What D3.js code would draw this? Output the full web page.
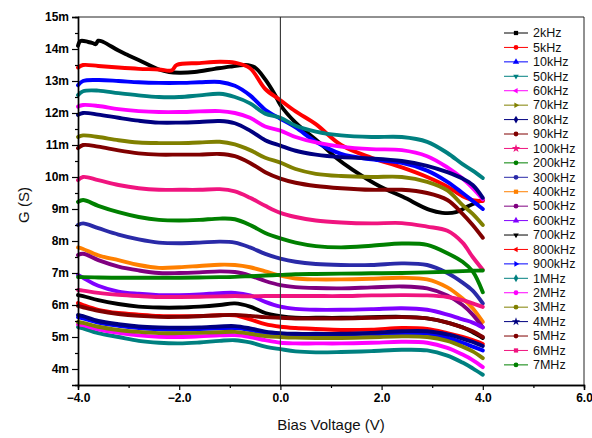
<!DOCTYPE html>
<html>
<head>
<meta charset="utf-8">
<script src="https://cdn.jsdelivr.net/npm/d3@7/dist/d3.min.js"></script>
<style>
  html, body { margin: 0; padding: 0; background: #fff; }
  svg { display: block; }
  text { font-family: "Liberation Sans", Arial, sans-serif; }
</style>
</head>
<body>
<svg id="chart" width="592" height="438"></svg>
<script>
// Bias voltage sample points (V)
const biasV = [-4, -3.9, -3.6, -3.2, -2.8, -2.4, -2.0, -1.6, -1.2, -0.9, -0.6, -0.3, 0, 0.3, 0.7, 1.2, 1.8, 2.4, 2.9, 3.3, 3.6, 3.8, 4.0];
const biasV_2k = [-4.0, -3.95, -3.8, -3.7, -3.65, -3.6, -3.5, -3.2, -3.0, -2.7, -2.4, -2.2, -2.0, -1.7, -1.3, -1.0, -0.7, -0.5, -0.3, -0.1, 0.0, 0.3, 0.78, 1.1, 1.43, 1.97, 2.42, 2.95, 3.2, 3.47, 3.73, 4.0];
const biasV_5k = [-4, -3.9, -3.6, -3.2, -2.8, -2.4, -2.15, -2.05, -1.6, -1.2, -0.9, -0.6, -0.3, 0, 0.3, 0.7, 1.2, 1.8, 2.4, 2.9, 3.3, 3.6, 3.8, 4.0];

// Conductance G (mS) per frequency
const g2k   = [14.1, 14.25, 14.22, 14.18, 14.15, 14.26, 14.22, 13.95, 13.8, 13.58, 13.36, 13.28, 13.26, 13.28, 13.38, 13.45, 13.5, 13.42, 13.05, 12.55, 12.25, 11.7, 11.06, 10.6, 10.22, 9.7, 9.38, 8.97, 8.88, 8.9, 9.1, 9.28];
const g5k   = [13.42, 13.5, 13.47, 13.42, 13.38, 13.36, 13.33, 13.5, 13.56, 13.6, 13.57, 13.4, 12.75, 12.4, 12.05, 11.65, 11.0, 10.6, 10.3, 10.0, 9.7, 9.4, 9.28, 9.25];
const g10k  = [12.87, 13.0, 13.03, 13.0, 12.96, 12.94, 12.94, 12.96, 12.97, 12.85, 12.55, 12.1, 11.82, 11.55, 11.1, 10.72, 10.55, 10.44, 10.2, 9.85, 9.5, 9.25, 9.0];
const g50k  = [12.56, 12.68, 12.7, 12.62, 12.55, 12.5, 12.5, 12.55, 12.6, 12.5, 12.3, 11.98, 11.85, 11.6, 11.42, 11.3, 11.25, 11.25, 11.1, 10.75, 10.4, 10.2, 9.97];
const g60k  = [12.2, 12.25, 12.22, 12.12, 12.06, 12.03, 12.03, 12.05, 12.06, 12.0, 11.85, 11.58, 11.45, 11.25, 11.08, 10.95, 10.87, 10.84, 10.65, 10.3, 9.95, 9.65, 9.3];
const g70k  = [11.25, 11.3, 11.25, 11.15, 11.08, 11.06, 11.06, 11.08, 11.1, 11.02, 10.84, 10.6, 10.45, 10.25, 10.1, 10.03, 10.0, 10.0, 9.85, 9.58, 9.12, 8.85, 8.5];
const g80k  = [11.94, 12.0, 11.95, 11.85, 11.76, 11.7, 11.7, 11.72, 11.75, 11.68, 11.45, 11.15, 10.98, 10.82, 10.7, 10.62, 10.58, 10.5, 10.35, 10.15, 9.95, 9.75, 9.35];
const g90k  = [10.9, 11.0, 10.95, 10.83, 10.74, 10.7, 10.7, 10.7, 10.72, 10.65, 10.44, 10.15, 9.95, 9.82, 9.72, 9.65, 9.6, 9.6, 9.5, 9.28, 8.85, 8.5, 8.1];
const g100k = [9.9, 10.0, 9.9, 9.75, 9.65, 9.6, 9.6, 9.6, 9.62, 9.55, 9.35, 9.1, 8.88, 8.75, 8.64, 8.58, 8.55, 8.56, 8.45, 8.32, 7.95, 7.5, 7.1];
const g200k = [9.22, 9.28, 9.1, 8.9, 8.75, 8.66, 8.64, 8.66, 8.7, 8.68, 8.5, 8.25, 8.08, 7.95, 7.84, 7.8, 7.85, 7.92, 7.88, 7.62, 7.35, 7.05, 6.4];
const g300k = [8.5, 8.55, 8.4, 8.2, 8.05, 7.95, 7.93, 7.95, 7.98, 7.95, 7.8, 7.6, 7.45, 7.35, 7.28, 7.25, 7.25, 7.3, 7.25, 7.0, 6.7, 6.45, 6.05];
const g400k = [7.8, 7.75, 7.55, 7.4, 7.25, 7.16, 7.18, 7.22, 7.26, 7.25, 7.18, 7.05, 6.92, 6.83, 6.8, 6.8, 6.82, 6.85, 6.8, 6.55, 6.2, 5.9, 5.47];
const g500k = [7.56, 7.6, 7.4, 7.2, 7.08, 7.0, 7.0, 7.02, 7.05, 7.03, 6.92, 6.75, 6.62, 6.56, 6.53, 6.52, 6.55, 6.58, 6.52, 6.3, 6.0, 5.7, 5.3];
const g600k = [6.94, 6.85, 6.6, 6.42, 6.35, 6.31, 6.31, 6.33, 6.37, 6.38, 6.3, 6.1, 5.95, 5.88, 5.85, 5.85, 5.87, 5.9, 5.85, 5.7, 5.55, 5.45, 5.3];
const g700k = [6.31, 6.28, 6.15, 6.03, 5.95, 5.92, 5.92, 5.95, 6.0, 6.05, 5.95, 5.75, 5.65, 5.6, 5.6, 5.6, 5.62, 5.63, 5.58, 5.45, 5.3, 5.15, 4.97];
const g800k = [6.06, 6.0, 5.85, 5.75, 5.7, 5.66, 5.65, 5.66, 5.68, 5.68, 5.55, 5.4, 5.32, 5.28, 5.25, 5.22, 5.23, 5.28, 5.25, 5.12, 5.0, 4.9, 4.78];
const g900k = [5.62, 5.58, 5.45, 5.35, 5.28, 5.24, 5.23, 5.25, 5.27, 5.28, 5.22, 5.12, 5.06, 5.03, 5.02, 5.03, 5.06, 5.1, 5.1, 4.98, 4.82, 4.7, 4.58];
const g1M   = [5.31, 5.27, 5.12, 5.0, 4.88, 4.82, 4.8, 4.83, 4.88, 4.9, 4.83, 4.7, 4.62, 4.55, 4.52, 4.53, 4.56, 4.6, 4.58, 4.42, 4.2, 4.02, 3.82];
const g2M   = [5.4, 5.37, 5.24, 5.13, 5.05, 5.01, 5.0, 5.02, 5.05, 5.06, 5.0, 4.9, 4.82, 4.8, 4.8, 4.8, 4.82, 4.85, 4.82, 4.66, 4.45, 4.28, 4.06];
const g3M   = [5.47, 5.44, 5.32, 5.22, 5.16, 5.12, 5.12, 5.13, 5.15, 5.16, 5.1, 5.03, 5.0, 4.98, 4.97, 4.97, 4.99, 5.02, 5.0, 4.88, 4.7, 4.55, 4.34];
const g4M   = [5.69, 5.65, 5.5, 5.4, 5.33, 5.3, 5.29, 5.3, 5.33, 5.34, 5.27, 5.17, 5.12, 5.1, 5.1, 5.1, 5.13, 5.18, 5.18, 5.08, 4.95, 4.85, 4.72];
const g5M   = [5.97, 5.93, 5.82, 5.72, 5.66, 5.63, 5.63, 5.65, 5.68, 5.69, 5.66, 5.62, 5.6, 5.58, 5.58, 5.58, 5.6, 5.62, 5.58, 5.45, 5.3, 5.18, 5.0];
const g6M   = [6.47, 6.45, 6.38, 6.32, 6.28, 6.25, 6.25, 6.26, 6.27, 6.28, 6.27, 6.28, 6.28, 6.28, 6.28, 6.28, 6.3, 6.31, 6.3, 6.25, 6.15, 6.05, 5.94];
const g7M   = [6.875, 6.87, 6.86, 6.85, 6.85, 6.85, 6.85, 6.86, 6.87, 6.88, 6.9, 6.92, 6.94, 6.96, 6.97, 6.98, 6.99, 7.0, 7.02, 7.04, 7.06, 7.07, 7.08];

const freqLabels = ["2kHz", "5kHz", "10kHz", "50kHz", "60kHz", "70kHz", "80kHz", "90kHz", "100kHz", "200kHz", "300kHz", "400kHz",
                    "500kHz", "600kHz", "700kHz", "800kHz", "900kHz", "1MHz", "2MHz", "3MHz", "4MHz", "5MHz", "6MHz", "7MHz"];
const xTicks = [-4, -2, 0, 2, 4, 6];
const yTicks = [4, 5, 6, 7, 8, 9, 10, 11, 12, 13, 14, 15];

// Styling per series
const lineColors = ["#000000", "#ff0000", "#0000ff", "#008080", "#ff00ff", "#808000", "#000080", "#800000", "#f0147f", "#008000", "#2a2aa8", "#ff8000",
                    "#800080", "#8000ff", "#000000", "#ff0000", "#0000ff", "#008080", "#ff00ff", "#808000", "#000080", "#800000", "#f0147f", "#008000"];
const markerShapes = [d3.symbolSquare, d3.symbolCircle, d3.symbolTriangle, "tdown", "tleft", "tright", d3.symbolDiamond, d3.symbolCircle,
                      d3.symbolStar, d3.symbolCircle, d3.symbolCircle, d3.symbolSquare, d3.symbolCircle, d3.symbolTriangle, "tdown", "tleft",
                      "tright", d3.symbolDiamond, d3.symbolCircle, d3.symbolCircle, d3.symbolStar, d3.symbolCircle, d3.symbolSquare, d3.symbolCircle];

const volts = [biasV_2k, biasV_5k].concat(d3.range(22).map(() => biasV));
const values = [g2k, g5k, g10k, g50k, g60k, g70k, g80k, g90k, g100k, g200k, g300k, g400k,
                g500k, g600k, g700k, g800k, g900k, g1M, g2M, g3M, g4M, g5M, g6M, g7M];
const series = freqLabels.map((label, i) => ({
  label, color: lineColors[i], shape: markerShapes[i],
  points: volts[i].map((v, j) => [v, values[i][j]])
}));

const svg = d3.select("#chart");
const plot = { left: 78, right: 584, top: 17, bottom: 385 };

const x = d3.scaleLinear().domain([-4, 6]).range([plot.left, plot.right]);
const y = d3.scaleLinear().domain([3.5, 15]).range([plot.bottom, plot.top]);

// Curves
const line = d3.line().x(d => x(d[0])).y(d => y(d[1])).curve(d3.curveCatmullRom.alpha(0.5));
const curves = svg.append("g");
series.forEach(s => {
  curves.append("path")
    .attr("d", line(s.points))
    .attr("fill", "none")
    .attr("stroke", s.color)
    .attr("stroke-width", 3.9)
    .attr("stroke-linejoin", "round")
    .attr("stroke-linecap", "round");
});

// Zero-bias reference line
svg.append("line")
  .attr("x1", x(0)).attr("x2", x(0))
  .attr("y1", plot.top).attr("y2", plot.bottom)
  .attr("stroke", "#333").attr("stroke-width", 1.1);

// Frame (top and right)
svg.append("path")
  .attr("d", `M${plot.left},${plot.top}H${plot.right}V${plot.bottom}`)
  .attr("fill", "none").attr("stroke", "#222").attr("stroke-width", 1);

// Axes
const fmtX = d3.format(".1f");
const xAxis = d3.axisBottom(x).tickValues(xTicks).tickFormat(d => fmtX(d)).tickSize(5).tickPadding(3);
const xMinor = d3.axisBottom(x).tickValues([-3, -1, 1, 3, 5]).tickFormat("").tickSize(3);
const yAxis = d3.axisLeft(y).tickValues(yTicks).tickFormat(d => d + "m").tickSize(6).tickPadding(3);
const yMinor = d3.axisLeft(y).tickValues(d3.range(4.5, 15, 1)).tickFormat("").tickSize(3);

function styleAxis(g) {
  g.select(".domain").attr("stroke", "#000").attr("stroke-width", 1.4);
  g.selectAll(".tick line").attr("stroke", "#000").attr("stroke-width", 1.2);
  g.selectAll("text").attr("font-family", '"Liberation Sans", Arial, sans-serif')
    .attr("font-size", 12).attr("font-weight", "bold").attr("fill", "#000");
}
svg.append("g").attr("transform", `translate(0,${plot.bottom})`).call(xMinor).call(styleAxis);
svg.append("g").attr("transform", `translate(0,${plot.bottom})`).call(xAxis).call(styleAxis);
svg.append("g").attr("transform", `translate(${plot.left},0)`).call(yMinor).call(styleAxis);
svg.append("g").attr("transform", `translate(${plot.left},0)`).call(yAxis).call(styleAxis);

// Axis titles
svg.append("text")
  .attr("x", 331).attr("y", 430)
  .attr("text-anchor", "middle").attr("font-size", 15).attr("fill", "#111")
  .text("Bias Voltage (V)");
svg.append("text")
  .attr("transform", "translate(29,205) rotate(-90)")
  .attr("text-anchor", "middle").attr("font-size", 15).attr("fill", "#111")
  .text("G (S)");

// Legend
const tri = (angle) => {
  const r = 3.2;
  const pts = [0, 120, 240].map(a => {
    const t = (a + angle) * Math.PI / 180;
    return [r * Math.sin(t), -r * Math.cos(t)];
  });
  return "M" + pts.map(p => p.join(",")).join("L") + "Z";
};
const legend = svg.append("g");
const legendY0 = 33, legendStep = 14.43;
series.forEach((s, i) => {
  const yy = legendY0 + i * legendStep;
  legend.append("line")
    .attr("x1", 504).attr("x2", 528).attr("y1", yy).attr("y2", yy)
    .attr("stroke", s.color).attr("stroke-width", 1);
  let d;
  if (s.shape === "tdown") d = tri(180);
  else if (s.shape === "tleft") d = tri(270);
  else if (s.shape === "tright") d = tri(90);
  else d = d3.symbol().type(s.shape).size(s.shape === d3.symbolStar ? 22 : 18)();
  legend.append("path")
    .attr("d", d)
    .attr("transform", `translate(516,${yy})`)
    .attr("fill", s.color);
  legend.append("text")
    .attr("x", 533).attr("y", yy + 4.3)
    .attr("font-size", 12.5).attr("fill", "#111")
    .text(s.label);
});
</script>
</body>
</html>
